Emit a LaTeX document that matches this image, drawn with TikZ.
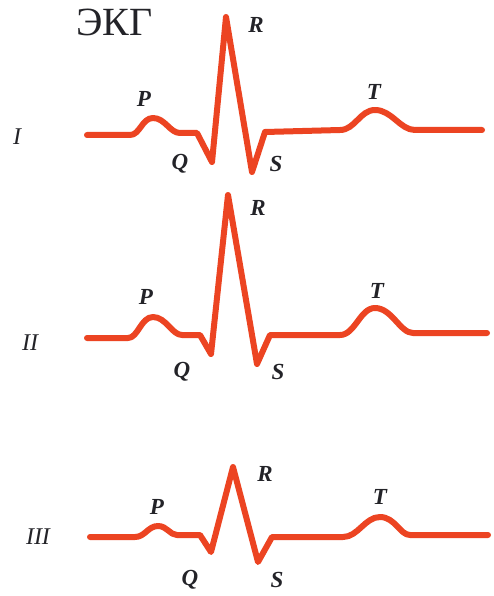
\documentclass[tikz,border=0pt]{standalone}
\usepackage{fontspec}
\setmainfont{Liberation Serif}
\definecolor{ecg}{RGB}{236,68,34}
\definecolor{lbl}{RGB}{35,35,40}
\tikzset{
  trace/.style={draw=ecg, line width=6pt, line join=round, line cap=round},
  wave/.style={font=\fontsize{23}{23}\selectfont\bfseries\itshape, text=lbl, inner sep=0pt},
  lead/.style={font=\fontsize{24}{24}\selectfont\itshape, text=lbl, inner sep=0pt},
}
\begin{document}
\begin{tikzpicture}[x=1pt,y=-1pt]
\useasboundingbox (0,0) rectangle (493,596);
\fill[white] (0,0) rectangle (493,596);
\node[font=\fontsize{40}{40}\selectfont, text=lbl, anchor=base west, inner sep=0pt] (title) at (76,36) {ЭКГ};
% Lead I
\draw[trace] (87,135) -- (130,135) .. controls (140,135) and (142,118) .. (153,118)
  .. controls (165,118) and (170,133) .. (180,133) -- (197,133) -- (212,162) -- (226,17)
  -- (252,172) -- (265,132) -- (340,130) .. controls (355,130) and (360,110) .. (375,110)
  .. controls (392,110) and (400,130) .. (415,130) -- (482,130);
\node[lead] (l1) at (17,137) {I};
\node[wave] (p1) at (144,99) {P};
\node[wave] (r1) at (256,25) {R};
\node[wave] (t1) at (374,92) {T};
\node[wave] (q1) at (180,164) {Q};
\node[wave] (s1) at (276,164) {S};
% Lead II
\draw[trace] (87,338) -- (128,338) .. controls (138,338) and (141,317) .. (153,317)
  .. controls (166,317) and (172,335) .. (182,335) -- (200,335) -- (211,354) -- (228,195)
  -- (257,364) -- (270,335) -- (340,335) .. controls (355,335) and (360,308) .. (375,308)
  .. controls (392,308) and (400,333) .. (413,333) -- (487,333);
\node[lead] (l2) at (30,343) {II};
\node[wave] (p2) at (146,297) {P};
\node[wave] (r2) at (258,208) {R};
\node[wave] (t2) at (377,291) {T};
\node[wave] (q2) at (182,372) {Q};
\node[wave] (s2) at (278,372) {S};
% Lead III
\draw[trace] (90,537) -- (135,537) .. controls (145,537) and (148,526) .. (158,526)
  .. controls (167,526) and (170,535) .. (177,535) -- (200,535) -- (211,552) -- (233,467)
  -- (258,562) -- (272,537) -- (343,537) .. controls (358,537) and (365,517) .. (380,517)
  .. controls (395,517) and (400,535) .. (410,535) -- (488,535);
\node[lead] (l3) at (38,537) {III};
\node[wave] (p3) at (157,507) {P};
\node[wave] (r3) at (265,474) {R};
\node[wave] (t3) at (380,497) {T};
\node[wave] (q3) at (190,580) {Q};
\node[wave] (s3) at (277,580) {S};
\end{tikzpicture}
\end{document}
